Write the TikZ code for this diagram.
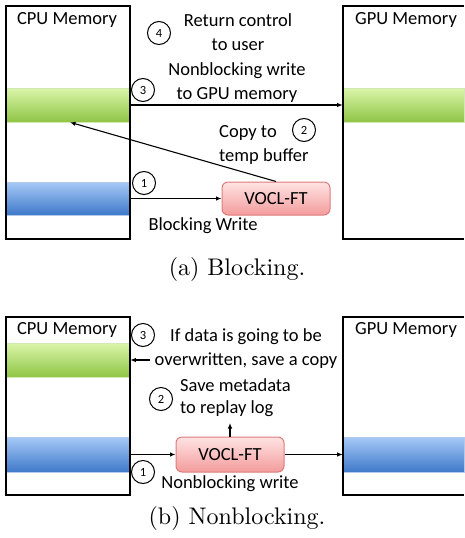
\documentclass[tikz,border=0pt]{standalone}
\usepackage{fontspec}
\newfontfamily\calib{Carlito}
\newfontfamily\capfont[Extension=.otf]{lmroman10-regular}
\usetikzlibrary{arrows.meta}
\definecolor{grnTop}{HTML}{DAF5AA}
\definecolor{grnBot}{HTML}{8FC545}
\definecolor{bluTop}{HTML}{A6C9F7}
\definecolor{bluBot}{HTML}{3F79C9}
\definecolor{pnkTop}{HTML}{FFE3E3}
\definecolor{pnkBot}{HTML}{F39C9C}
\definecolor{pnkLine}{HTML}{DE7C7C}
\tikzset{
  lbl/.style={font=\calib\fontsize{18.5}{24}\selectfont, inner sep=0pt, align=center},
  lbll/.style={lbl, align=left, anchor=west},
  num/.style={circle, draw, line width=1pt, minimum size=23pt, inner sep=0pt,
    font=\calib\fontsize{12.5}{12.5}\selectfont},
  membox/.style={draw, line width=1.6pt},
  bar/.style={minimum height=34pt, inner sep=0pt, draw=#1!40!white, line width=0.6pt},
  greenbar/.style={bar=grnBot, top color=grnTop, bottom color=grnBot},
  bluebar/.style={bar=bluBot, top color=bluTop, bottom color=bluBot},
  vocl/.style={rounded corners=6pt, draw=pnkLine, line width=1pt, top color=pnkTop,
    bottom color=pnkBot, minimum width=108pt, minimum height=33pt, inner sep=0pt,
    font=\calib\fontsize{18.5}{24}\selectfont},
  conn/.style={line width=1.1pt, -{Latex[length=5.5pt,width=4.5pt]}},
  subcap/.style={font=\capfont\fontsize{24}{28}\selectfont, inner sep=0pt}
}
\begin{document}
\begin{tikzpicture}[x=1pt, y=-1pt]
\useasboundingbox (0,0) rectangle (464,538);

% ---------- (a) Blocking ----------
\node[greenbar, minimum width=124pt] (gA) at (68,105) {};
\node[bluebar, minimum width=124pt, minimum height=33pt] (bA) at (68,198.5) {};
\node[greenbar, minimum width=121pt] (gA2) at (403.5,105) {};
\draw[membox] (6,6) rectangle (130,239);
\draw[membox] (464,6) -- (343,6) -- (343,239) -- (464,239);
\node[lbl] (cpuA) at (67,20) {CPU Memory};
\node[lbl] (gpuA) at (406,20) {GPU Memory};
\node[vocl] (vA) at (276,198.5) {VOCL-FT};

\node[num] (n4a) at (159,33) {4};
\node[lbl] (t4a) at (238,32.5) {Return control\\to user};
\node[num] (n3a) at (143,90) {3};
\node[lbl] (t3a) at (237,83) {Nonblocking write\\to GPU memory};
\node[num] (n2a) at (304,130) {2};
\node[lbll] (t2a) at (219,145) {Copy to\\temp buffer};
\node[num] (n1a) at (144,183) {1};
\node[lbl] (t1a) at (203,226) {Blocking Write};

\draw[conn] (bA.east) -- (vA.west);
\draw[conn] (vA.north) -- ([xshift=2pt]gA.south);
\draw[conn] (gA.east) -- (gA2.west);

\node[subcap] (capA) at (237,269) {(a) Blocking.};

% ---------- (b) Nonblocking ----------
\node[greenbar, minimum width=124pt] (gB) at (68,360) {};
\node[bluebar, minimum width=124pt, minimum height=35pt] (bB) at (68,454.5) {};
\node[bluebar, minimum width=121pt, minimum height=35pt] (bB2) at (403.5,454.5) {};
\draw[membox] (6,317) rectangle (130,495);
\draw[membox] (464,317) -- (343,317) -- (343,495) -- (464,495);
\node[lbl] (cpuB) at (67,330) {CPU Memory};
\node[lbl] (gpuB) at (406,330) {GPU Memory};
\node[vocl, minimum height=35pt] (vB) at (230,454.5) {VOCL-FT};

\node[num] (n3b) at (143,335) {3};
\node[lbl] (t3b) at (246,348.5) {If data is going to be\\overwritten, save a copy};
\node[num] (n2b) at (161,399) {2};
\node[lbll, font=\calib\fontsize{18.5}{22}\selectfont] (t2b) at (180,398) {Save metadata\\to replay log};
\node[num] (n1b) at (143,472) {1};
\node[lbl] (t1b) at (230,484) {Nonblocking write};

\coordinate (cpyStart) at (150,360);
\coordinate (logEnd) at (230,423);
\draw[conn] (bB.east) -- (vB.west);
\draw[conn] (vB.east) -- (bB2.west);
\draw[conn] (vB.north) -- (logEnd);
\draw[conn] (cpyStart) -- (gB.east);

\node[subcap] (capB) at (237,518) {(b) Nonblocking.};
\end{tikzpicture}
\end{document}
